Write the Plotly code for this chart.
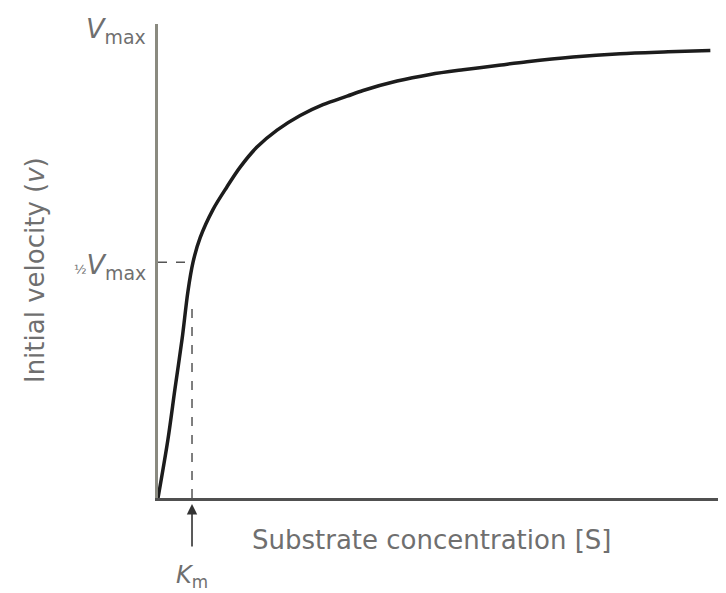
import plotly.graph_objects as go

# Data (S in units of Km, v in units of Vmax)
substrate = [0.0, 0.29, 0.5, 0.71, 0.88, 1.03, 1.24, 1.62, 2.03, 2.41, 2.91, 3.5, 4.18,
             4.85, 5.56, 6.03, 7.03, 8.0, 8.97, 9.97, 10.85, 12.2, 13.59, 15.0, 16.24]
velocity = [0.0, 0.123, 0.232, 0.338, 0.438, 0.5, 0.552, 0.612, 0.660, 0.701, 0.744, 0.780,
            0.811, 0.834, 0.852, 0.864, 0.884, 0.898, 0.908, 0.917, 0.925, 0.935, 0.942,
            0.946, 0.949]
KM = 1.0
VMAX = 1.0
HALF_VMAX = 0.5 * VMAX
KM_GUIDE_TOP = 0.42

y_tick_vals = [VMAX, HALF_VMAX]
y_tick_text = ["<i>V</i><sub>max</sub>",
               "<span style='font-size:13px'>½</span><i>V</i><sub>max</sub>"]
x_title = "Substrate concentration [S]"
y_title = "Initial velocity (<i>v</i>)"
km_label = "<i>K</i><sub>m</sub>"

FONT = "DejaVu Sans"
GREY = "#6f6f6f"

fig = go.Figure()

# dashed guides
fig.add_trace(go.Scatter(x=[0, KM], y=[HALF_VMAX, HALF_VMAX], mode="lines",
                         line=dict(color="#555555", width=1.5, dash="dash"),
                         hoverinfo="skip", showlegend=False))
fig.add_trace(go.Scatter(x=[KM, KM], y=[0, KM_GUIDE_TOP], mode="lines",
                         line=dict(color="#555555", width=1.5, dash="dash"),
                         hoverinfo="skip", showlegend=False))

# Michaelis-Menten curve
fig.add_trace(go.Scatter(x=substrate, y=velocity, mode="lines",
                         line=dict(color="#1c1c1c", width=3.5, shape="spline", smoothing=0.9),
                         showlegend=False))

# tick labels as annotations
for val, txt in zip(y_tick_vals, y_tick_text):
    fig.add_annotation(x=0, y=val, xref="x", yref="y", text=txt, showarrow=False,
                       xanchor="right", yanchor="middle", xshift=-10, yshift=-4,
                       font=dict(family=FONT, size=27, color=GREY))

# axis titles
fig.add_annotation(x=0.482, y=-0.088, xref="paper", yref="paper", text=x_title,
                   showarrow=False, xanchor="center", yanchor="middle",
                   font=dict(family=FONT, size=26, color=GREY))
fig.add_annotation(x=-0.2165, y=0.481, xref="paper", yref="paper", text=y_title,
                   showarrow=False, textangle=-90, xanchor="center", yanchor="middle",
                   font=dict(family=FONT, size=26, color=GREY))

# Km arrow and label
fig.add_annotation(x=KM, y=0, xref="x", yref="y", text="", showarrow=True,
                   ax=0, ay=50, arrowhead=2, arrowsize=1.3, arrowwidth=1.6,
                   arrowcolor="#333333", standoff=6)
fig.add_annotation(x=KM, y=-0.165, xref="x", yref="paper", text=km_label,
                   showarrow=False, xanchor="center", yanchor="middle",
                   font=dict(family=FONT, size=24, color=GREY))

# page body has an 8px margin, so the figure is sized to end at the window edge
fig.update_layout(
    width=718, height=585,
    margin=dict(l=150, r=0, t=16, b=95),
    plot_bgcolor="white", paper_bgcolor="white",
    showlegend=False,
)
fig.update_xaxes(range=[0, 16.7], showgrid=False, zeroline=False, showticklabels=False,
                 showline=True, linecolor="#505050", linewidth=2.5, ticks="")
fig.update_yaxes(range=[0, 1.005], showgrid=False, zeroline=False, showticklabels=False,
                 showline=True, linecolor="#8a8a80", linewidth=2.5,
                 ticks="inside", tickvals=[1.005], ticklen=6, tickcolor="#8a8a80", tickwidth=2)

fig.write_html("out.html")
